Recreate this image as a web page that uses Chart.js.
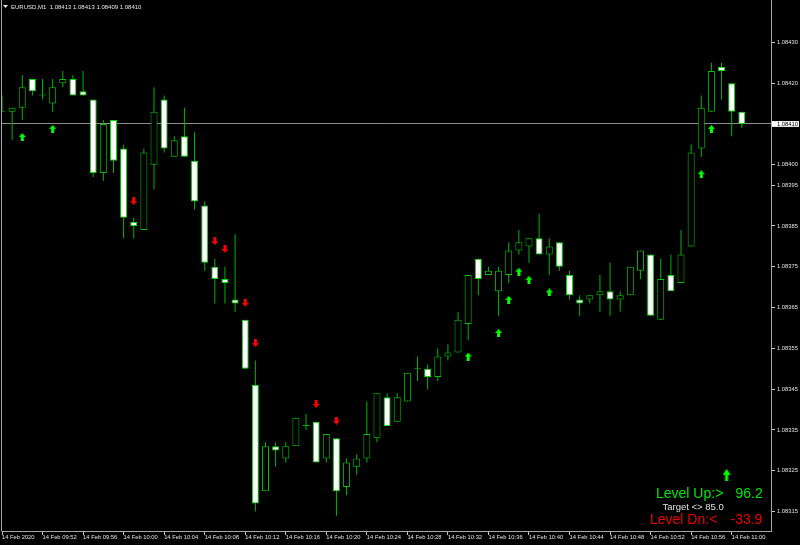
<!DOCTYPE html>
<html><head><meta charset="utf-8">
<script src="https://cdn.jsdelivr.net/npm/chart.js@4.4.1/dist/chart.umd.min.js"></script>
<style>html,body{margin:0;padding:0;background:#000;overflow:hidden}canvas{display:block}</style>
</head><body>
<canvas id="c" width="800" height="545"></canvas>
<script>
// ---------- DATA ----------
const symbolTitle = 'EURUSD,M1  1.08413 1.08413 1.08409 1.08410';
const barTimes = ['09:48','09:49','09:50','09:51','09:52','09:53','09:54','09:55','09:56','09:57',
  '09:58','09:59','10:00','10:01','10:02','10:03','10:04','10:05','10:06','10:07',
  '10:08','10:09','10:10','10:11','10:12','10:13','10:14','10:15','10:16','10:17',
  '10:18','10:19','10:20','10:21','10:22','10:23','10:24','10:25','10:26','10:27',
  '10:28','10:29','10:30','10:31','10:32','10:33','10:34','10:35','10:36','10:37',
  '10:38','10:39','10:40','10:41','10:42','10:43','10:44','10:45','10:46','10:47',
  '10:48','10:49','10:50','10:51','10:52','10:53','10:54','10:55','10:56','10:57',
  '10:58','10:59','11:00','11:01'];
const openP = [1.08413,1.08413,1.08414,1.08421,1.08417,1.08415,1.08420,1.08421,1.08418,1.08416,
  1.08398,1.08411,1.08404,1.08386,1.08384,1.08400,1.08416,1.08402,1.08407,1.08401,
  1.08390,1.08375,1.08372,1.08367,1.08362,1.08346,1.08320,1.08331,1.08328,1.08331,
  1.08336,1.08337,1.08328,1.08333,1.08321,1.08326,1.08328,1.08333,1.08343,1.08337,
  1.08342,1.08350,1.08350,1.08348,1.08353,1.08354,1.08361,1.08377,1.08373,1.08369,
  1.08373,1.08379,1.08380,1.08382,1.08378,1.08381,1.08373,1.08367,1.08367,1.08368,
  1.08369,1.08367,1.08368,1.08374,1.08378,1.08362,1.08373,1.08371,1.08380,1.08404,
  1.08413,1.08424,1.08420,1.08413];
const highP = [1.08417,1.08414,1.08422,1.08421,1.08421,1.08421,1.08423,1.08422,1.08423,1.08416,
  1.08411,1.08411,1.08405,1.08387,1.08404,1.08419,1.08417,1.08407,1.08414,1.08408,
  1.08391,1.08377,1.08375,1.08383,1.08362,1.08352,1.08332,1.08332,1.08332,1.08338,
  1.08339,1.08337,1.08334,1.08333,1.08328,1.08329,1.08342,1.08344,1.08344,1.08344,
  1.08349,1.08353,1.08351,1.08355,1.08356,1.08364,1.08373,1.08377,1.08375,1.08375,
  1.08381,1.08384,1.08382,1.08388,1.08382,1.08381,1.08374,1.08368,1.08368,1.08373,
  1.08376,1.08369,1.08375,1.08379,1.08378,1.08377,1.08378,1.08384,1.08405,1.08417,
  1.08425,1.08425,1.08420,1.08413];
const lowP = [1.08413,1.08406,1.08411,1.08417,1.08416,1.08413,1.08419,1.08417,1.08417,1.08397,
  1.08396,1.08398,1.08382,1.08382,1.08384,1.08394,1.08403,1.08402,1.08402,1.08389,
  1.08374,1.08366,1.08366,1.08364,1.08350,1.08315,1.08320,1.08326,1.08327,1.08331,
  1.08335,1.08327,1.08327,1.08314,1.08319,1.08324,1.08327,1.08332,1.08336,1.08337,
  1.08342,1.08347,1.08345,1.08347,1.08352,1.08354,1.08357,1.08368,1.08373,1.08363,
  1.08371,1.08378,1.08376,1.08378,1.08373,1.08374,1.08367,1.08363,1.08366,1.08364,
  1.08363,1.08364,1.08368,1.08372,1.08363,1.08362,1.08369,1.08371,1.08380,1.08402,
  1.08413,1.08416,1.08407,1.08409];
const closeP = [1.08413,1.08414,1.08419,1.08418,1.08417,1.08419,1.08421,1.08417,1.08417,1.08398,
  1.08410,1.08401,1.08387,1.08385,1.08403,1.08413,1.08404,1.08406,1.08402,1.08391,
  1.08376,1.08372,1.08371,1.08366,1.08350,1.08317,1.08331,1.08330,1.08331,1.08338,
  1.08336,1.08327,1.08334,1.08320,1.08327,1.08328,1.08334,1.08344,1.08336,1.08343,
  1.08349,1.08350,1.08348,1.08353,1.08354,1.08362,1.08373,1.08372,1.08374,1.08374,
  1.08379,1.08381,1.08382,1.08378,1.08380,1.08375,1.08368,1.08366,1.08368,1.08369,
  1.08367,1.08368,1.08375,1.08379,1.08363,1.08372,1.08369,1.08378,1.08403,1.08414,
  1.08423,1.08423,1.08413,1.08410];
const upArrowBars = [2,5,46,49,50,51,52,54,69,70];
const upArrowPrices = [1.084068,1.084088,1.083530,1.083588,1.083669,1.083738,1.083718,1.083687,1.083977,1.084088];
const downArrowBars = [13,21,22,24,25,31,33];
const downArrowPrices = [1.083911,1.083813,1.083794,1.083662,1.083563,1.083414,1.083373];
const xTickBars = [0,4,8,12,16,20,24,28,32,36,40,44,48,52,56,60,64,68,72];
const xTickLabels = ['14 Feb 2020','14 Feb 09:52','14 Feb 09:56','14 Feb 10:00','14 Feb 10:04','14 Feb 10:08',
  '14 Feb 10:12','14 Feb 10:16','14 Feb 10:20','14 Feb 10:24','14 Feb 10:28','14 Feb 10:32','14 Feb 10:36',
  '14 Feb 10:40','14 Feb 10:44','14 Feb 10:48','14 Feb 10:52','14 Feb 10:56','14 Feb 11:00'];
const yTickValues = [1.08430,1.08420,1.08410,1.08400,1.08395,1.08385,1.08375,1.08365,1.08355,1.08345,1.08335,1.08325,1.08315];
const currentPrice = 1.08410;
const panelArrowBar = [71.5];
const panelArrowPrice = [1.08324];
const levelUpValue = '96.2';
const targetValue = '85.0';
const levelDnValue = '-33.9';

// ---------- STYLE ----------
const wickColor = '#00b400';
const bullBorder = '#00c000';
const bearBorder = '#00e000';
const frameColor = '#a8a8a8';
const axisText = '#e0e0e0';
const arrowGreen = '#00ff00';
const arrowRed = '#ff0000';
const smallFont = {family: 'Liberation Sans', size: 5.8, lineHeight: 1};

function makeArrow(color, up, w, h, headH, shaftW) {
  const c = document.createElement('canvas');
  c.width = w; c.height = h;
  const g = c.getContext('2d');
  g.fillStyle = color;
  g.beginPath();
  const m = w / 2, s = shaftW / 2;
  const pts = [[m,0],[w,headH],[m+s,headH],[m+s,h],[m-s,h],[m-s,headH],[0,headH]];
  pts.forEach((p, i) => {
    const y = up ? p[1] : h - p[1];
    if (i === 0) g.moveTo(p[0], y); else g.lineTo(p[0], y);
  });
  g.closePath(); g.fill();
  return c;
}
const upImg = makeArrow(arrowGreen, true, 7, 8, 4, 3);
const downImg = makeArrow(arrowRed, false, 7, 8, 4, 3);
const bigUpImg = makeArrow(arrowGreen, true, 8, 12, 6, 3);

const idx = barTimes.map((t, i) => i);
const isBull = i => closeP[i] > openP[i];
const isDoji = i => closeP[i] === openP[i];

const overlay = {
  id: 'overlay',
  beforeDraw(chart) {
    const {ctx} = chart;
    ctx.save(); ctx.fillStyle = '#000'; ctx.fillRect(0, 0, chart.width, chart.height); ctx.restore();
  },
  afterDraw(chart) {
    const {ctx, chartArea: a} = chart;
    ctx.save();
    ctx.strokeStyle = frameColor; ctx.lineWidth = 1;
    ctx.beginPath(); ctx.moveTo(a.left - 0.5, 0); ctx.lineTo(a.left - 0.5, a.bottom + 0.5); ctx.stroke();
    // title
    ctx.fillStyle = '#e8e8e8';
    ctx.beginPath(); ctx.moveTo(3, 5); ctx.lineTo(8, 5); ctx.lineTo(5.5, 8); ctx.closePath(); ctx.fill();
    ctx.font = '6px "Liberation Sans"';
    ctx.textBaseline = 'alphabetic'; ctx.textAlign = 'left';
    ctx.fillText(symbolTitle, 11, 8.6);
    // info panel
    ctx.font = '14px "Liberation Sans"';
    ctx.fillStyle = '#00e800';
    ctx.fillText('Level Up:>', 656, 497.5);
    ctx.fillText(levelUpValue, 735.5, 497.5);
    ctx.font = '9.5px "Liberation Sans"';
    ctx.fillStyle = '#e0e0e0';
    ctx.fillText('Target <> ' + targetValue, 662.5, 509.5);
    ctx.font = '14px "Liberation Sans"';
    ctx.fillStyle = '#ee0000';
    ctx.fillText('Level Dn:<', 650, 524);
    ctx.fillText(levelDnValue, 730.5, 524);
    ctx.restore();
  }
};

new Chart(document.getElementById('c'), {
  type: 'bar',
  data: {
    datasets: [
      {
        label: 'bodies', order: 1, grouped: false,
        data: idx.map(i => ({x: i, y: [openP[i], closeP[i]]})),
        barThickness: 7, borderWidth: 1, borderSkipped: false, minBarLength: 1, inflateAmount: 0,
        backgroundColor: idx.map(i => isDoji(i) ? wickColor : (isBull(i) ? '#000000' : '#ffffff')),
        borderColor: idx.map(i => isDoji(i) ? wickColor : (isBull(i) ? bullBorder : bearBorder))
      },
      {
        label: 'wicks', order: 2, grouped: false,
        data: idx.map(i => ({x: i, y: [lowP[i], highP[i]]})),
        barThickness: 1, borderWidth: 0, inflateAmount: 0,
        backgroundColor: wickColor
      },
      {
        type: 'scatter', label: 'up', order: 0,
        data: upArrowBars.map((b, k) => ({x: b, y: upArrowPrices[k]})),
        pointStyle: upImg, pointRadius: 4, showLine: false
      },
      {
        type: 'scatter', label: 'down', order: 0,
        data: downArrowBars.map((b, k) => ({x: b, y: downArrowPrices[k]})),
        pointStyle: downImg, pointRadius: 4, showLine: false
      },
      {
        type: 'scatter', label: 'panel', order: 0,
        data: panelArrowBar.map((b, k) => ({x: b, y: panelArrowPrice[k]})),
        pointStyle: bigUpImg, pointRadius: 6, showLine: false
      }
    ]
  },
  options: {
    responsive: false, animation: false, devicePixelRatio: 1,
    layout: {autoPadding: false, padding: {left: 2, top: 0, right: 0, bottom: 0}},
    plugins: {legend: {display: false}, tooltip: {enabled: false}},
    scales: {
      x: {
        type: 'linear', min: 0, max: 75.88, offset: false,
        afterBuildTicks: s => { s.ticks = xTickBars.map(v => ({value: v})); },
        afterFit: s => { s.height = 14; s.paddingLeft = 0; s.paddingRight = 0; },
        grid: {drawOnChartArea: false, drawTicks: true, tickLength: 4, tickColor: '#c8c8c8', offset: false},
        border: {display: true, color: frameColor},
        ticks: {
          autoSkip: false, maxRotation: 0, minRotation: 0, align: 'start', padding: -0.5,
          color: axisText, font: smallFont,
          callback: v => xTickLabels[xTickBars.indexOf(v)]
        }
      },
      y: {
        type: 'linear', position: 'right', min: 1.0831024, max: 1.0844039,
        afterBuildTicks: s => { s.ticks = yTickValues.map(v => ({value: v})); },
        afterFit: s => { s.width = 29; s.paddingTop = 0; s.paddingBottom = 0; },
        grid: {
          drawOnChartArea: true, drawTicks: true, tickLength: 4,
          color: c => (c.tick && Math.abs(c.tick.value - currentPrice) < 1e-9) ? '#8c8c8c' : 'rgba(0,0,0,0)',
          tickColor: '#c8c8c8'
        },
        border: {display: true, color: frameColor},
        ticks: {
          autoSkip: false, padding: 2, font: smallFont,
          color: c => (c.tick && Math.abs(c.tick.value - currentPrice) < 1e-9) ? '#000000' : axisText,
          showLabelBackdrop: c => !!(c.tick && Math.abs(c.tick.value - currentPrice) < 1e-9),
          backdropColor: '#ffffff',
          backdropPadding: {top: 0, bottom: 0, left: 5, right: 1},
          callback: v => v.toFixed(5)
        }
      }
    }
  },
  plugins: [overlay]
});
</script>
</body></html>
